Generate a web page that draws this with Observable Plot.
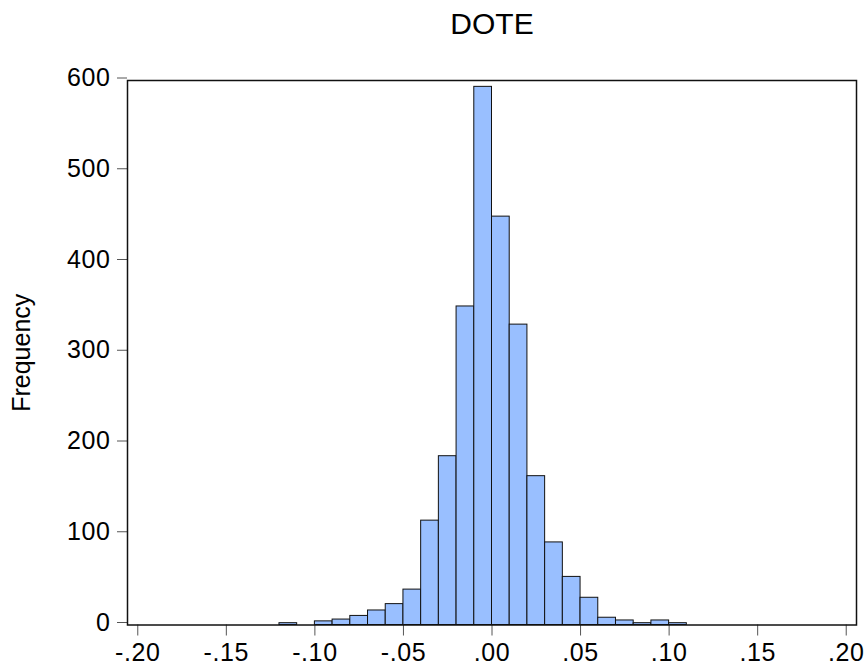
<!DOCTYPE html>
<html>
<head>
<meta charset="utf-8">
<script src="https://cdn.jsdelivr.net/npm/d3@7"></script>
<script src="https://cdn.jsdelivr.net/npm/@observablehq/plot@0.6"></script>
<style>
  body { margin: 0; background: #fff; }
  #chart svg { display: block; }
  [aria-label="x-axis tick label"], [aria-label="y-axis tick label"] { letter-spacing: 0.6px; }
</style>
</head>
<body>
<div id="chart"></div>
<script>
// Histogram of DOTE returns: left edge of each 0.01-wide bin and its count
const binStart = [-0.12, -0.11, -0.10, -0.09, -0.08, -0.07, -0.06, -0.05, -0.04, -0.03, -0.02, -0.01,
                  0.00, 0.01, 0.02, 0.03, 0.04, 0.05, 0.06, 0.07, 0.08, 0.09, 0.10];
const counts   = [2, 0, 4, 6, 10, 16, 23, 39, 115, 186, 351, 593,
                  450, 331, 164, 91, 53, 30, 8, 5, 2, 5, 2];
const binWidth = 0.01;

const xTicks = [-0.20, -0.15, -0.10, -0.05, 0.00, 0.05, 0.10, 0.15, 0.20];
const xTickLabels = ["-.20", "-.15", "-.10", "-.05", ".00", ".05", ".10", ".15", ".20"];
const yTicks = [0, 100, 200, 300, 400, 500, 600];

const title = "DOTE";
const yLabel = "Frequency";

const bins = binStart.map((x, i) => ({x1: x, x2: x + binWidth, count: counts[i]}));

const chart = Plot.plot({
  width: 866,
  height: 668,
  marginLeft: 127,
  marginRight: 10,
  marginTop: 80,
  marginBottom: 43.5,
  style: {fontFamily: "'Liberation Sans', Arial, sans-serif", fontSize: "25px", background: "#fff", color: "#000"},
  x: {domain: [-0.2058, 0.2058]},
  y: {domain: [0, 600]},
  marks: [
    Plot.rectY(bins, {x1: "x1", x2: "x2", y: "count", fill: "#99bfff", stroke: "#111", strokeWidth: 1}),
    Plot.axisX({ticks: xTicks, tickFormat: d => xTickLabels[xTicks.indexOf(d)], tickSize: 11, tickPadding: 7,
                stroke: "#555", fill: "#000", label: null, fontSize: 25}),
    Plot.axisY({ticks: yTicks, tickSize: 10, tickPadding: 7, dy: -2.5,
                stroke: "#555", fill: "#000", label: null, fontSize: 25}),
    Plot.frame({stroke: "#111", strokeWidth: 1.5}),
    Plot.text([title], {frameAnchor: "top", dy: -47, lineAnchor: "bottom", fontSize: 30, fill: "#000"}),
    Plot.text([yLabel], {frameAnchor: "left", textAnchor: "middle", rotate: -90, dx: -98,
                         lineAnchor: "bottom", fontSize: 25, fill: "#000"})
  ]
});

document.getElementById("chart").append(chart);
</script>
</body>
</html>
